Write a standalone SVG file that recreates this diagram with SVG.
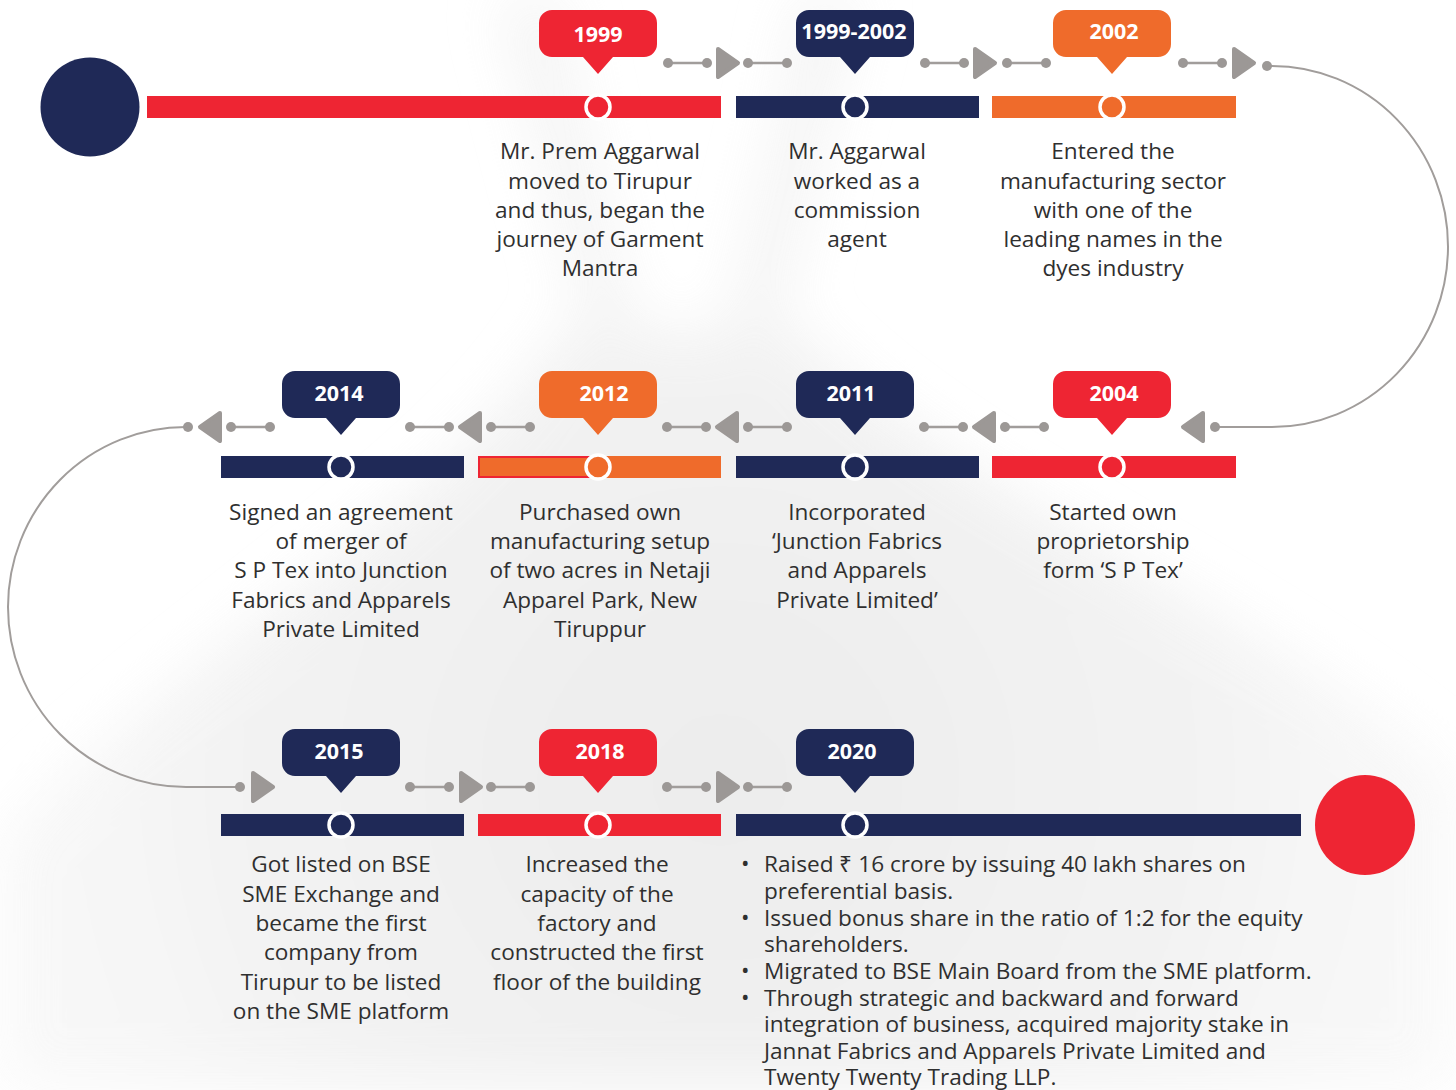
<svg xmlns="http://www.w3.org/2000/svg" xmlns:xlink="http://www.w3.org/1999/xlink" width="1456" height="1090" viewBox="0 0 1456 1090">
<defs>
<radialGradient id="bgSkirt" cx="720" cy="780" r="820" gradientUnits="userSpaceOnUse">
<stop offset="0" stop-color="#e8e8e8"/>
<stop offset="0.55" stop-color="#f0f0f0"/>
<stop offset="1" stop-color="#fafafa"/>
</radialGradient>
<filter id="soft" x="-20%" y="-20%" width="140%" height="140%"><feGaussianBlur stdDeviation="28"/></filter>
<path id="tag" d="M-46,0 H46 A13,13 0 0 1 59,13 V34 A13,13 0 0 1 46,47 H15 L0,64 L-15,47 H-46 A13,13 0 0 1 -59,34 V13 A13,13 0 0 1 -46,0 Z"/>
<g id="seg"><line x1="0" y1="0" x2="39" y2="0" class="cline"/><circle cx="0" cy="0" r="5" class="cdot"/><circle cx="39" cy="0" r="5" class="cdot"/></g>
<path id="triR" d="M2,-14 L22,0 L2,14 Z" class="ctri"/>
<path id="triL" d="M-2,-14 L-22,0 L-2,14 Z" class="ctri"/>
</defs>
<style>
.cline{stroke:#a19d9b;stroke-width:2.5;fill:none}
.cdot{fill:#9c9896}
.ctri{fill:#9c9896;stroke:#9c9896;stroke-width:4;stroke-linejoin:round}
.curve{fill:none;stroke:#a19d9b;stroke-width:2}
.red{fill:#ee2533}
.navy{fill:#1f2957}
.orange{fill:#ef6b2b}
.mark{stroke:#ffffff;stroke-width:3.5}
.tagtxt{font-family:"Open Sans","Liberation Sans",sans-serif;font-weight:700;font-size:21.5px;fill:#ffffff;text-anchor:middle}
.desc{font-family:"Open Sans","Liberation Sans",sans-serif;font-size:22.6px;fill:#2f2f2f;text-anchor:middle}
.bul{font-family:"Open Sans","Liberation Sans",sans-serif;font-size:22.6px;fill:#2f2f2f}
</style>
<rect x="0" y="0" width="1456" height="1090" fill="#ffffff"/>
<g id="background" filter="url(#soft)" opacity="0.8">
<path d="M560,330 C470,490 160,670 0,840 V1090 H1456 V780 C1280,620 930,480 800,330 Z" fill="url(#bgSkirt)"/>
<path d="M500,0 C530,110 560,230 590,340 L640,340 C610,230 575,110 560,0 Z" fill="#f1f1f1"/>
<path d="M860,0 C830,110 800,230 775,340 L725,340 C750,230 785,110 800,0 Z" fill="#f1f1f1"/>
</g>

<g id="connectors">
<use href="#seg" x="668" y="63"/><use href="#triR" x="716" y="63"/><use href="#seg" x="748" y="63"/>
<use href="#seg" x="925" y="63"/><use href="#triR" x="973" y="63"/><use href="#seg" x="1007" y="63"/>
<use href="#seg" x="1183" y="63"/><use href="#triR" x="1232" y="63"/>
<path class="curve" d="M1267,66 H1272 A176,180.5 0 0 1 1272,427 H1215"/>
<circle cx="1267" cy="66" r="5" class="cdot"/>
<circle cx="1215" cy="427" r="5" class="cdot"/><use href="#triL" x="1205" y="427"/>
<use href="#seg" x="1005" y="427"/><use href="#triL" x="996" y="427"/><use href="#seg" x="924" y="427"/>
<use href="#seg" x="748" y="427"/><use href="#triL" x="739" y="427"/><use href="#seg" x="667" y="427"/>
<use href="#seg" x="491" y="427"/><use href="#triL" x="482" y="427"/><use href="#seg" x="410" y="427"/>
<use href="#seg" x="231" y="427"/><use href="#triL" x="222" y="427"/>
<path class="curve" d="M188,427 H186 A178,180 0 0 0 186,787 H240"/>
<circle cx="188" cy="427" r="5" class="cdot"/>
<circle cx="240" cy="787" r="5" class="cdot"/><use href="#triR" x="251" y="787"/>
<use href="#seg" x="410" y="787"/><use href="#triR" x="459" y="787"/><use href="#seg" x="491" y="787"/>
<use href="#seg" x="667" y="787"/><use href="#triR" x="716" y="787"/><use href="#seg" x="748" y="787"/>
</g>

<g id="start">
<circle cx="90" cy="107" r="49.5" class="navy"/>
</g>
<g id="end">
<circle cx="1365" cy="825" r="50" class="red"/>
</g>

<g id="n1999">
<rect x="147" y="96" width="574" height="22" class="red"/>
<circle cx="598" cy="107" r="12" class="red mark"/>
<use href="#tag" x="598" y="10" class="red"/>
<text x="598" y="42" class="tagtxt">1999</text>
<text class="desc"><tspan x="600" y="159">Mr. Prem Aggarwal</tspan><tspan x="600" y="189">moved to Tirupur</tspan><tspan x="600" y="218">and thus, began the</tspan><tspan x="600" y="247">journey of Garment</tspan><tspan x="600" y="276">Mantra</tspan></text>
</g>

<g id="n1999-2002">
<rect x="736" y="96" width="243" height="22" class="navy"/>
<circle cx="855" cy="107" r="12" class="navy mark"/>
<use href="#tag" x="855" y="10" class="navy"/>
<text x="854" y="39" class="tagtxt">1999-2002</text>
<text class="desc"><tspan x="857" y="159">Mr. Aggarwal</tspan><tspan x="857" y="189">worked as a</tspan><tspan x="857" y="218">commission</tspan><tspan x="857" y="247">agent</tspan></text>
</g>

<g id="n2002">
<rect x="992" y="96" width="244" height="22" class="orange"/>
<circle cx="1112" cy="107" r="12" class="orange mark"/>
<use href="#tag" x="1112" y="10" class="orange"/>
<text x="1114" y="39" class="tagtxt">2002</text>
<text class="desc"><tspan x="1113" y="159">Entered the</tspan><tspan x="1113" y="189">manufacturing sector</tspan><tspan x="1113" y="218">with one of the</tspan><tspan x="1113" y="247">leading names in the</tspan><tspan x="1113" y="276">dyes industry</tspan></text>
</g>

<g id="n2004">
<rect x="992" y="456" width="244" height="22" class="red"/>
<circle cx="1112" cy="467" r="12" class="red mark"/>
<use href="#tag" x="1112" y="371" class="red"/>
<text x="1114" y="401" class="tagtxt">2004</text>
<text class="desc"><tspan x="1113" y="520">Started own</tspan><tspan x="1113" y="549">proprietorship</tspan><tspan x="1113" y="578">form ‘S P Tex’</tspan></text>
</g>

<g id="n2011">
<rect x="736" y="456" width="243" height="22" class="navy"/>
<circle cx="855" cy="467" r="12" class="navy mark"/>
<use href="#tag" x="855" y="371" class="navy"/>
<text x="851" y="401" class="tagtxt">2011</text>
<text class="desc"><tspan x="857" y="520">Incorporated</tspan><tspan x="857" y="549">‘Junction Fabrics</tspan><tspan x="857" y="578">and Apparels</tspan><tspan x="857" y="608">Private Limited’</tspan></text>
</g>

<g id="n2012">
<rect x="478" y="456" width="243" height="22" class="orange"/>
<rect x="479" y="457" width="110" height="20" fill="none" stroke="#ee2533" stroke-width="2"/>
<circle cx="598" cy="467" r="12" class="orange mark"/>
<use href="#tag" x="598" y="371" class="orange"/>
<text x="604" y="401" class="tagtxt">2012</text>
<text class="desc"><tspan x="600" y="520">Purchased own</tspan><tspan x="600" y="549">manufacturing setup</tspan><tspan x="600" y="578">of two acres in Netaji</tspan><tspan x="600" y="608">Apparel Park, New</tspan><tspan x="600" y="637">Tiruppur</tspan></text>
</g>

<g id="n2014">
<rect x="221" y="456" width="243" height="22" class="navy"/>
<circle cx="341" cy="467" r="12" class="navy mark"/>
<use href="#tag" x="341" y="371" class="navy"/>
<text x="339" y="401" class="tagtxt">2014</text>
<text class="desc"><tspan x="341" y="520">Signed an agreement</tspan><tspan x="341" y="549">of merger of</tspan><tspan x="341" y="578">S P Tex into Junction</tspan><tspan x="341" y="608">Fabrics and Apparels</tspan><tspan x="341" y="637">Private Limited</tspan></text>
</g>

<g id="n2015">
<rect x="221" y="814" width="243" height="22" class="navy"/>
<circle cx="341" cy="825" r="12" class="navy mark"/>
<use href="#tag" x="341" y="729" class="navy"/>
<text x="339" y="759" class="tagtxt">2015</text>
<text class="desc"><tspan x="341" y="872">Got listed on BSE</tspan><tspan x="341" y="902">SME Exchange and</tspan><tspan x="341" y="931">became the first</tspan><tspan x="341" y="960">company from</tspan><tspan x="341" y="990">Tirupur to be listed</tspan><tspan x="341" y="1019">on the SME platform</tspan></text>
</g>

<g id="n2018">
<rect x="478" y="814" width="243" height="22" class="red"/>
<circle cx="598" cy="825" r="12" class="red mark"/>
<use href="#tag" x="598" y="729" class="red"/>
<text x="600" y="759" class="tagtxt">2018</text>
<text class="desc"><tspan x="597" y="872">Increased the</tspan><tspan x="597" y="902">capacity of the</tspan><tspan x="597" y="931">factory and</tspan><tspan x="597" y="960">constructed the first</tspan><tspan x="597" y="990">floor of the building</tspan></text>
</g>

<g id="n2020">
<rect x="736" y="814" width="565" height="22" class="navy"/>
<circle cx="855" cy="825" r="12" class="navy mark"/>
<use href="#tag" x="855" y="729" class="navy"/>
<text x="852" y="759" class="tagtxt">2020</text>
<text class="bul"><tspan x="741" y="871">•</tspan><tspan x="741" y="925">•</tspan><tspan x="741" y="978">•</tspan><tspan x="741" y="1005">•</tspan></text>
<text class="bul"><tspan x="764" y="872">Raised ₹ 16 crore by issuing 40 lakh shares on</tspan><tspan x="764" y="899">preferential basis.</tspan><tspan x="764" y="926">Issued bonus share in the ratio of 1:2 for the equity</tspan><tspan x="764" y="952">shareholders.</tspan><tspan x="764" y="979">Migrated to BSE Main Board from the SME platform.</tspan><tspan x="764" y="1006">Through strategic and backward and forward</tspan><tspan x="764" y="1032">integration of business, acquired majority stake in</tspan><tspan x="764" y="1059">Jannat Fabrics and Apparels Private Limited and</tspan><tspan x="764" y="1085">Twenty Twenty Trading LLP.</tspan></text>
</g>
</svg>
